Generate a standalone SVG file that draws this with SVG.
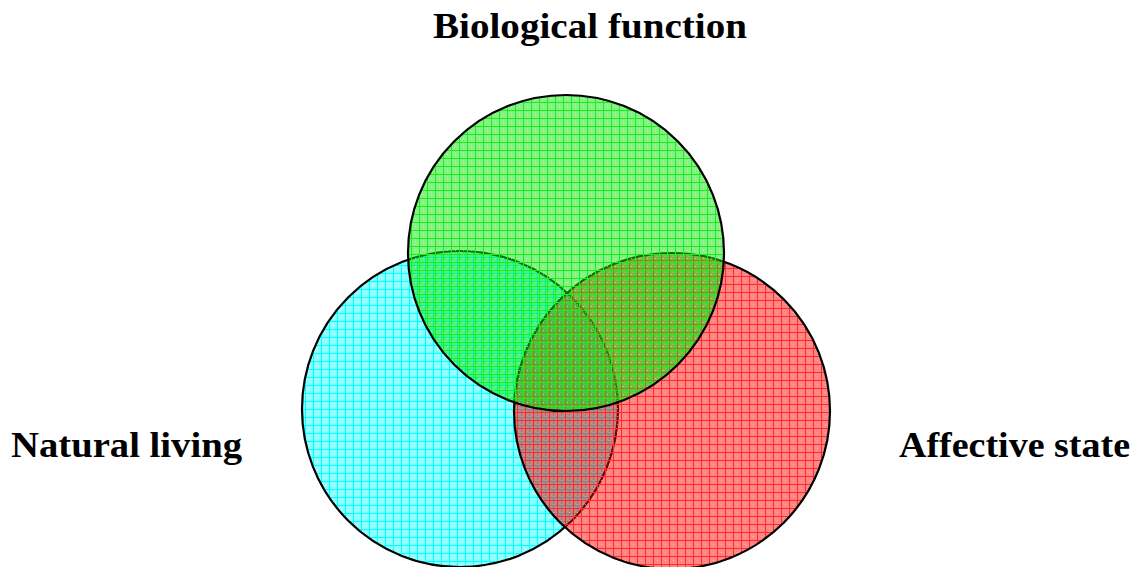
<svg xmlns="http://www.w3.org/2000/svg" width="1139" height="567" viewBox="0 0 1139 567">
  <defs>
    <pattern id="pc" x="1" y="1" width="8" height="8" patternUnits="userSpaceOnUse">
      <rect width="8" height="8" fill="#00ffff" fill-opacity="0.45"/>
      <rect x="4" y="4" width="1" height="1" fill="#ffffff"/>
      <rect width="8" height="1" fill="#00ffff"/>
      <rect width="1" height="8" fill="#00ffff"/>
    </pattern>
    <pattern id="pr" x="5" y="4" width="8" height="8" patternUnits="userSpaceOnUse">
      <rect width="8" height="8" fill="#ff0000" fill-opacity="0.48"/>
      <rect x="4" y="4" width="1" height="1" fill="#ffcccc" fill-opacity="0.6"/>
      <rect width="8" height="1" fill="#ff2a2a"/>
      <rect width="1" height="8" fill="#ff2a2a"/>
    </pattern>
    <pattern id="pg" x="3" y="6" width="8" height="8" patternUnits="userSpaceOnUse">
      <rect width="8" height="8" fill="#0ae60a" fill-opacity="0.5"/>
      <rect x="4" y="4" width="1" height="1" fill="#ccffcc" fill-opacity="0.6"/>
      <rect width="8" height="1" fill="#1aee1a"/>
      <rect width="1" height="8" fill="#1aee1a"/>
    </pattern>
  </defs>
  <style>
    .c { stroke: #000; stroke-width: 2.2; }
    .t { font-family: "Liberation Serif", "DejaVu Serif", serif; font-weight: bold; font-size: 36px; fill: #000; }
  </style>
  <rect width="1139" height="567" fill="#ffffff"/>
  <g id="natural-living">
    <circle class="c" cx="460" cy="409" r="158" fill="url(#pc)"/>
    <text class="t" x="11" y="457" textLength="231" lengthAdjust="spacingAndGlyphs">Natural living</text>
  </g>
  <g id="affective-state">
    <circle class="c" cx="672" cy="411" r="158" fill="url(#pr)"/>
    <text class="t" x="899" y="457" textLength="231" lengthAdjust="spacingAndGlyphs">Affective state</text>
  </g>
  <g id="biological-function">
    <circle class="c" cx="566" cy="253" r="158" fill="url(#pg)"/>
    <text class="t" x="433" y="38" textLength="314" lengthAdjust="spacingAndGlyphs">Biological function</text>
  </g>
  <g id="connectors"/>
</svg>
